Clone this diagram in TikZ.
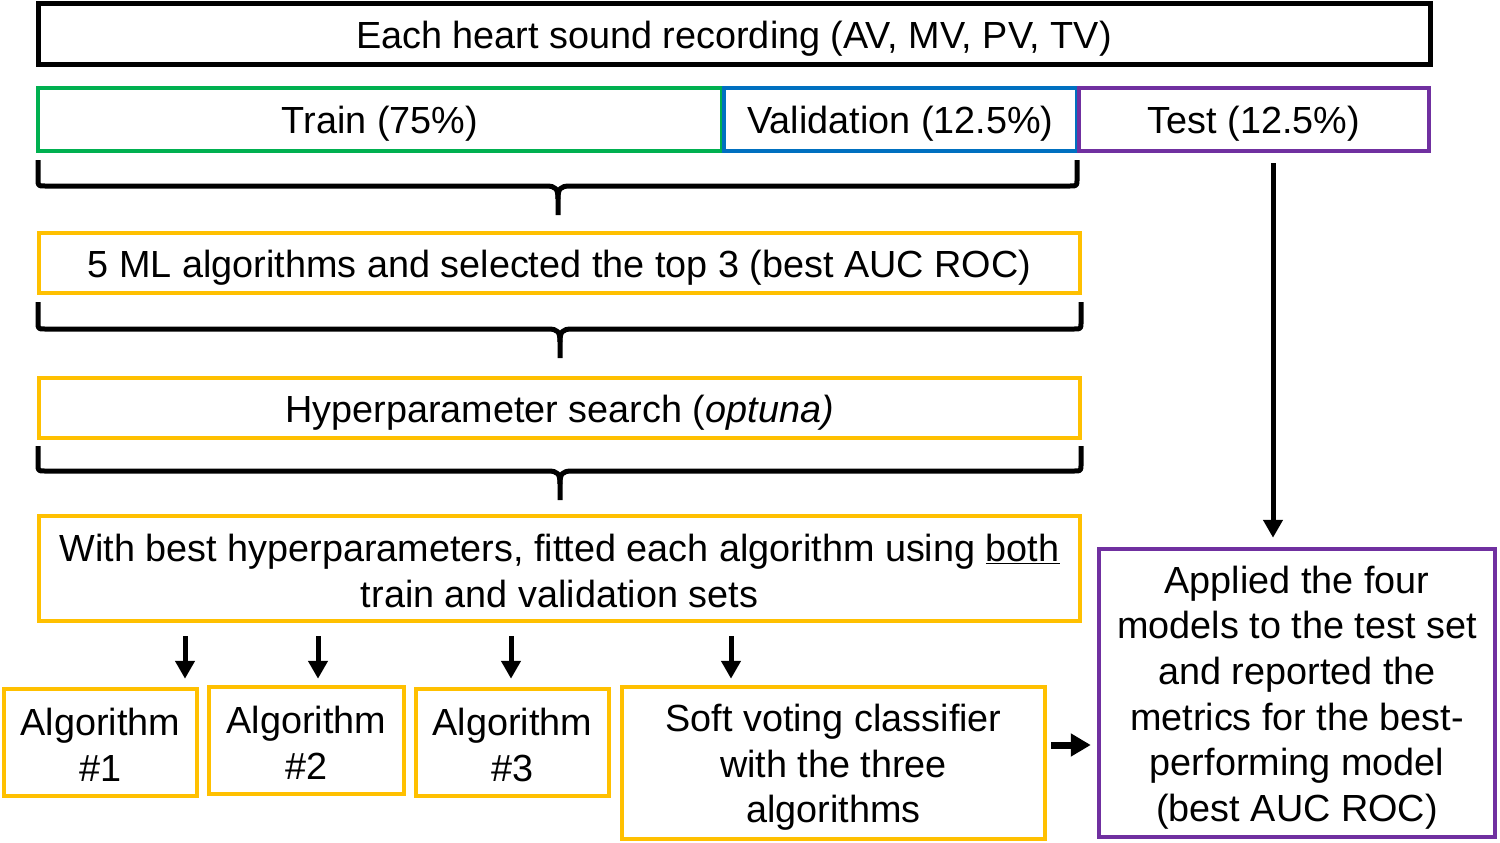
\documentclass[tikz,border=0pt]{standalone}
\usepackage{fontspec}
\setmainfont{Liberation Sans}
\usetikzlibrary{arrows.meta,calc}
\definecolor{cgreen}{HTML}{00B050}
\definecolor{cblue}{HTML}{0070C0}
\definecolor{cpurple}{HTML}{7030A0}
\definecolor{cgold}{HTML}{FFC000}
\newcommand{\mybrace}[6]{%
 \draw[bracestyle] (#1,#4) -- (#1,#5-7) .. controls (#1,#5) .. (#1+7,#5) -- (#3-12,#5) .. controls (#3-2,#5) and (#3,#5+3) .. (#3,#5+13) -- (#3,#6);
 \draw[bracestyle] (#2,#4) -- (#2,#5-7) .. controls (#2,#5) .. (#2-7,#5) -- (#3+12,#5) .. controls (#3+2,#5) and (#3,#5+3) .. (#3,#5+13);
}
\begin{document}
\begin{tikzpicture}[x=1pt,y=-1pt,
  every node/.style={font=\fontsize{37.8}{45.6}\selectfont, align=center, inner sep=0pt},
  box/.style={draw, line width=4.5pt, rectangle},
  gbox/.style={box, draw=cgold},
  txt/.style={label={[yshift=-4.5pt]center:{#1}}},
  txtb/.style={label={[yshift=-2.5pt]center:{#1}}},
  bracestyle/.style={line width=5pt, line cap=butt, line join=round},
  arr/.style={line width=5pt, -{Triangle[width=19pt,length=18pt]}},
  arrh/.style={line width=7pt, -{Triangle[width=22pt,length=20pt]}}]
\useasboundingbox (0,0) rectangle (1500,843);
\node[box, line width=5pt, minimum width=1392pt, minimum height=61pt, txt={Each heart sound recording (AV, MV, PV, TV)}] (rec) at (734,34.5) {};
\node[box, draw=cgreen, minimum width=684pt, minimum height=63pt, txt={Train (75\%)}] (train) at (380,119.5) {};
\node[box, draw=cblue, minimum width=353pt, minimum height=63pt, txt={Validation (12.5\%)}] (val) at (900.5,119.5) {};
\node[box, draw=cpurple, minimum width=350pt, minimum height=63pt, txt={Test (12.5\%)}] (test) at (1254,119.5) {};
\node[gbox, minimum width=1041pt, minimum height=60pt, txt={5 ML algorithms and selected the top 3 (best AUC ROC)}] (ml) at (559.5,263) {};
\node[gbox, minimum width=1041pt, minimum height=60pt, txt={Hyperparameter search (\textit{optuna)}}] (hyper) at (559.5,408) {};
\node[gbox, minimum width=1041pt, minimum height=105pt, txtb={With best hyperparameters, fitted each algorithm using \underline{both}\\train and validation sets}] (with) at (559.5,568.5) {};
\node[gbox, minimum width=193pt, minimum height=107pt, txtb={Algorithm\\\#1}] (alg1) at (100.5,742.5) {};
\node[gbox, minimum width=195pt, minimum height=107pt, txtb={Algorithm\\\#2}] (alg2) at (306.5,740.5) {};
\node[gbox, minimum width=193pt, minimum height=107pt, txtb={Algorithm\\\#3}] (alg3) at (512.5,742.5) {};
\node[gbox, minimum width=423pt, minimum height=152pt, txt={Soft voting classifier\\with the three\\algorithms}] (soft) at (833.5,763) {};
\node[box, draw=cpurple, minimum width=396pt, minimum height=288pt, txt={Applied the four\\models to the test set\\and reported the\\metrics for the best-\\performing model\\(best AUC ROC)}] (applied) at (1297,693) {};
% braces
\mybrace{38}{1077}{558}{160}{186}{215}
\mybrace{38}{1081}{560}{302}{329}{358}
\mybrace{38}{1081}{560}{446}{471}{500}
% arrows
\coordinate (a1) at (185,0);
\coordinate (a2) at (318,0);
\coordinate (a3) at (511,0);
\coordinate (a4) at (731,0);
\coordinate (ta) at (1273,0);
\coordinate (sa) at (0,745);
\draw[arr] ($(with.south -| a1)+(0,13)$) -- ($(alg1.north -| a1)+(0,-8)$);
\draw[arr] ($(with.south -| a2)+(0,13)$) -- ($(alg2.north -| a2)+(0,-6)$);
\draw[arr] ($(with.south -| a3)+(0,13)$) -- ($(alg3.north -| a3)+(0,-8)$);
\draw[arr] ($(with.south -| a4)+(0,13)$) -- ($(soft.north -| a4)+(0,-6)$);
\draw[arr] ($(test.south -| ta)+(0,10)$) -- ($(applied.north -| ta)+(0,-9)$);
\draw[arrh] ($(soft.east |- sa)+(4,0)$) -- ($(applied.west |- sa)+(-6,0)$);
\end{tikzpicture}
\end{document}
